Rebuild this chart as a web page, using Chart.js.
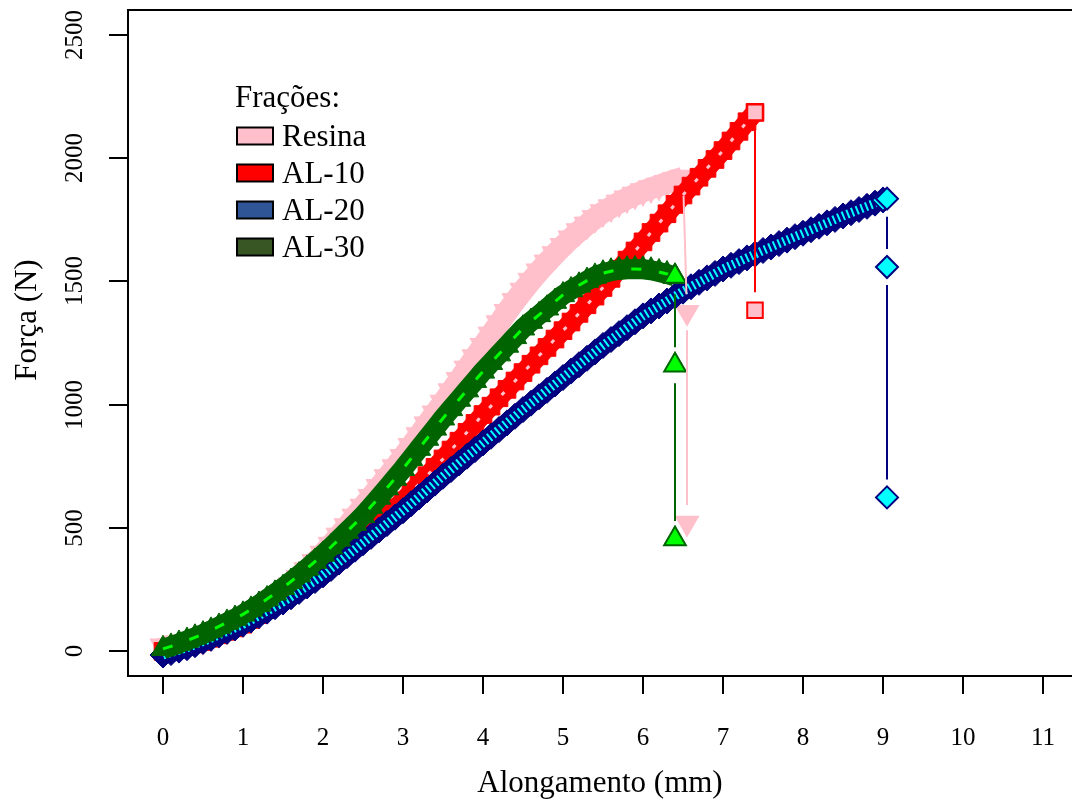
<!DOCTYPE html>
<html>
<head>
<meta charset="utf-8">
<script src="https://cdn.jsdelivr.net/npm/chart.js@4.4.1/dist/chart.umd.min.js"></script>
<style>
  html, body { margin: 0; padding: 0; background: #fff; overflow: hidden; }
  #wrap { width: 1072px; height: 803px; }
</style>
</head>
<body>
<div id="wrap"><canvas id="chart" width="1072" height="803"></canvas></div>
<script>
// Alongamento (mm), leitura a cada 0.1 mm
const alongamento = [
  0, 0.1, 0.2, 0.3, 0.4, 0.5, 0.6, 0.7, 0.8, 0.9,
  1, 1.1, 1.2, 1.3, 1.4, 1.5, 1.6, 1.7, 1.8, 1.9,
  2, 2.1, 2.2, 2.3, 2.4, 2.5, 2.6, 2.7, 2.8, 2.9,
  3, 3.1, 3.2, 3.3, 3.4, 3.5, 3.6, 3.7, 3.8, 3.9,
  4, 4.1, 4.2, 4.3, 4.4, 4.5, 4.6, 4.7, 4.8, 4.9,
  5, 5.1, 5.2, 5.3, 5.4, 5.5, 5.6, 5.7, 5.8, 5.9,
  6, 6.1, 6.2, 6.3, 6.4, 6.5, 6.6, 6.7, 6.8, 6.9,
  7, 7.1, 7.2, 7.3, 7.4, 7.5, 7.6, 7.7, 7.8, 7.9,
  8, 8.1, 8.2, 8.3, 8.4, 8.5, 8.6, 8.7, 8.8, 8.9,
  9
];

// Força (N) de cada fração
const resina = [
  20, 22, 26, 32, 38, 45, 58, 72, 87, 103,
  120, 141, 163, 187, 212, 238, 267, 297, 329, 362,
  396, 432, 469, 507, 546, 586, 626, 666, 706, 746,
  788, 832, 876, 920, 964, 1008, 1054, 1100, 1146, 1192,
  1238, 1284, 1330, 1376, 1420, 1462, 1502, 1540, 1576, 1610,
  1643, 1674, 1703, 1730, 1756, 1780, 1800, 1819, 1836, 1851,
  1865, 1877, 1888, 1899, 1910, 1920
];
const al10 = [
  0, 6, 13, 21, 30, 40, 53, 67, 81, 95,
  110, 129, 149, 169, 189, 210, 234, 258, 282, 306,
  330, 356, 382, 408, 434, 460, 490, 520, 550, 580,
  610, 644, 678, 712, 746, 780, 816, 852, 888, 924,
  960, 994, 1028, 1062, 1096, 1130, 1164, 1198, 1232, 1266,
  1300, 1335, 1370, 1405, 1440, 1475, 1512, 1549, 1586, 1623,
  1660, 1698, 1736, 1774, 1812, 1850, 1886, 1922, 1958, 1994,
  2030, 2069, 2108, 2147, 2185
];
const al20 = [
  -15, -5, 5, 15, 27, 40, 53, 67, 81, 95,
  110, 127, 145, 163, 181, 200, 221, 243, 265, 287,
  310, 336, 362, 388, 414, 440, 466, 492, 518, 544,
  570, 598, 626, 654, 682, 710, 737, 764, 791, 818,
  845, 872, 899, 926, 953, 980, 1006, 1032, 1058, 1084,
  1110, 1136, 1162, 1188, 1214, 1240, 1264, 1288, 1312, 1336,
  1360, 1380, 1400, 1420, 1440, 1460, 1478, 1496, 1514, 1532,
  1550, 1565, 1580, 1595, 1610, 1625, 1639, 1653, 1667, 1681,
  1695, 1709, 1723, 1737, 1751, 1765, 1778, 1791, 1804, 1817,
  1830
];
const al30 = [
  10, 20, 32, 44, 57, 70, 85, 101, 117, 133,
  150, 170, 190, 212, 235, 258, 283, 309, 336, 364,
  393, 423, 454, 486, 518, 550, 587, 624, 662, 701,
  740, 781, 822, 863, 904, 945, 983, 1021, 1059, 1097,
  1135, 1170, 1205, 1240, 1275, 1310, 1337, 1364, 1391, 1418,
  1445, 1465, 1484, 1503, 1520, 1533, 1541, 1546, 1549, 1550,
  1549, 1545, 1538, 1530, 1520
];

// pontos finais (ruptura)
const resinaFimX = [6.55, 6.55];
const resinaFimY = [1375, 520];
const al10FimX = [7.4];
const al10FimY = [1383];
const al20FimX = [9.05, 9.05, 9.05];
const al20FimY = [1835, 1558, 624];
const al30FimX = [6.4, 6.4];
const al30FimY = [1160, 455];

const xTicks = [0, 1, 2, 3, 4, 5, 6, 7, 8, 9, 10, 11];
const yTicks = [0, 500, 1000, 1500, 2000, 2500];
const fracoes = ['Resina', 'AL-10', 'AL-20', 'AL-30'];
const corLegenda = ['#FFC0CB', '#FF0000', '#2F5597', '#375623'];

const FONTE = '"Liberation Serif", "Times New Roman", serif';

// monta as 3 camadas de cada fração: faixa densa, riscos claros, pontos finais
function grupo(ys, fimX, fimY, st, ordem) {
  const curva = ys.map((y, i) => ({ x: alongamento[i], y: y }));
  const fim = [curva[curva.length - 1]];
  fimX.forEach((x, i) => fim.push({ x: x, y: fimY[i] }));
  const out = [];
  out.push({
    data: fim,
    showLine: false,
    pointStyle: st.estilo,
    rotation: st.rot,
    pointRadius: st.raio,
    pointBackgroundColor: st.claro,
    pointBorderColor: st.escuro,
    pointBorderWidth: 2,
    linhaB: st.escuro,
    order: ordem
  });
  if (st.risco) {
    out.push({
      data: curva,
      showLine: true,
      borderColor: st.claro,
      borderWidth: st.risco[0],
      borderDash: [st.risco[1], st.risco[2]],
      pointRadius: 0,
      order: ordem + 1
    });
  }
  out.push({
    data: curva,
    showLine: true,
    borderColor: st.escuro,
    borderWidth: st.faixa,
    borderJoinStyle: 'round',
    borderCapStyle: 'butt',
    pointStyle: st.estilo,
    rotation: st.rot,
    pointRadius: st.raioDenso,
    pointBackgroundColor: st.escuro,
    pointBorderColor: st.escuro,
    pointBorderWidth: 1,
    order: ordem + 2
  });
  return out;
}

// linhas tipo "b" do R: segmentos com folga em volta dos pontos
const linhasB = {
  id: 'linhasB',
  afterDatasetsDraw(chart) {
    const ctx = chart.ctx;
    const gap = 18;
    ctx.save();
    chart.data.datasets.forEach((ds, di) => {
      if (!ds.linhaB) return;
      const meta = chart.getDatasetMeta(di);
      ctx.strokeStyle = ds.linhaB;
      ctx.lineWidth = 2;
      for (let i = 0; i < meta.data.length - 1; i++) {
        const a = meta.data[i], b = meta.data[i + 1];
        const dx = b.x - a.x, dy = b.y - a.y;
        const d = Math.hypot(dx, dy);
        if (d <= 2 * gap) continue;
        const ux = dx / d, uy = dy / d;
        ctx.beginPath();
        ctx.moveTo(a.x + ux * gap, a.y + uy * gap);
        ctx.lineTo(b.x - ux * gap, b.y - uy * gap);
        ctx.stroke();
      }
    });
    ctx.restore();
  }
};

// eixos, caixa e legenda no estilo do R
const eixosR = {
  id: 'eixosR',
  afterDraw(chart) {
    const ctx = chart.ctx;
    const a = chart.chartArea;
    const xs = chart.scales.x, ys = chart.scales.y;
    ctx.save();
    ctx.strokeStyle = '#000';
    ctx.fillStyle = '#000';
    ctx.lineWidth = 2;
    ctx.strokeRect(a.left, a.top, a.right - a.left + 20, a.bottom - a.top);

    ctx.font = '25px ' + FONTE;
    ctx.textAlign = 'center';
    ctx.textBaseline = 'alphabetic';
    xTicks.forEach((t) => {
      const px = Math.round(xs.getPixelForValue(t));
      ctx.beginPath();
      ctx.moveTo(px, a.bottom);
      ctx.lineTo(px, a.bottom + 18);
      ctx.stroke();
      ctx.fillText(String(t), px, 745);
    });
    yTicks.forEach((t) => {
      const py = Math.round(ys.getPixelForValue(t));
      ctx.beginPath();
      ctx.moveTo(a.left, py);
      ctx.lineTo(a.left - 19, py);
      ctx.stroke();
      ctx.save();
      ctx.translate(82, py);
      ctx.rotate(-Math.PI / 2);
      ctx.fillText(String(t), 0, 0);
      ctx.restore();
    });

    ctx.font = '31px ' + FONTE;
    ctx.fillText('Alongamento (mm)', 600, 792);
    ctx.save();
    ctx.translate(36, 320);
    ctx.rotate(-Math.PI / 2);
    ctx.fillText('Força (N)', 0, 0);
    ctx.restore();

    // legenda
    ctx.textAlign = 'left';
    ctx.fillText('Frações:', 235, 107);
    ctx.lineWidth = 2;
    fracoes.forEach((f, i) => {
      const cy = 136 + i * 37;
      ctx.fillStyle = corLegenda[i];
      ctx.fillRect(237, cy - 8.5, 36, 17);
      ctx.strokeStyle = '#000';
      ctx.strokeRect(237, cy - 8.5, 36, 17);
      ctx.fillStyle = '#000';
      ctx.fillText(f, 282, cy + 10);
    });
    ctx.restore();
  }
};

const datasets = [].concat(
  grupo(al30, al30FimX, al30FimY,
    { estilo: 'triangle', rot: 0, claro: '#00FF00', escuro: '#006400', raio: 12.5, raioDenso: 13.5, faixa: 20, risco: [3, 10, 18] }, 1),
  grupo(al20, al20FimX, al20FimY,
    { estilo: 'rectRot', rot: 0, claro: '#00FFFF', escuro: '#000080', raio: 11, raioDenso: 13, faixa: 19, risco: [9, 2, 3] }, 4),
  grupo(al10, al10FimX, al10FimY,
    { estilo: 'rect', rot: 0, claro: '#FFC0CB', escuro: '#FF0000', raio: 11, raioDenso: 12.5, faixa: 19, risco: [3, 4, 14] }, 7),
  grupo(resina, resinaFimX, resinaFimY,
    { estilo: 'triangle', rot: 180, claro: '#FFC0CB', escuro: '#FFC0CB', raio: 12.5, raioDenso: 15, faixa: 22, risco: null }, 10)
);

new Chart(document.getElementById('chart'), {
  type: 'scatter',
  data: { datasets: datasets },
  options: {
    responsive: false,
    animation: false,
    events: [],
    layout: { autoPadding: false, padding: { left: 128, top: 10, right: 1, bottom: 127 } },
    scales: {
      x: { type: 'linear', min: -0.4375, max: 11.35, display: false },
      y: { type: 'linear', min: -100, max: 2600, display: false }
    },
    plugins: {
      legend: { display: false },
      tooltip: { enabled: false }
    }
  },
  plugins: [linhasB, eixosR]
});
</script>
</body>
</html>
